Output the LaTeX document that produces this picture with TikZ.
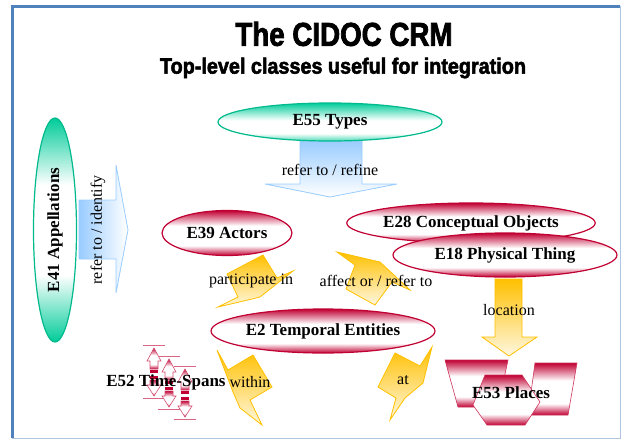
\documentclass[tikz,border=0pt]{standalone}
\usepackage{fontspec}
\usepackage{graphicx}
\setmainfont{Liberation Serif}
\newfontfamily\headfont{Liberation Sans}[BoldFeatures={FakeBold=2.5}]
\usetikzlibrary{shapes.geometric}

\definecolor{crmteal}{RGB}{0,204,153}
\definecolor{crmtealline}{RGB}{0,185,140}
\definecolor{crmred}{RGB}{192,0,50}
\definecolor{crmyellow}{RGB}{255,192,0}
\definecolor{crmblue}{RGB}{153,204,255}
\definecolor{framecol}{RGB}{79,129,189}

% banded shadings (the middle 50bp cover the path)
\pgfdeclareverticalshading{redband}{100bp}{color(0bp)=(crmred); color(25bp)=(crmred);
    color(36bp)=(white); color(58bp)=(white); color(75bp)=(crmred); color(100bp)=(crmred)}
\pgfdeclareverticalshading{tealband}{100bp}{color(0bp)=(crmteal!70); color(25bp)=(crmteal!70);
    color(35bp)=(white); color(52bp)=(white); color(75bp)=(crmteal); color(100bp)=(crmteal)}
\pgfdeclareverticalshading{tealsides}{100bp}{color(0bp)=(crmteal); color(25bp)=(crmteal);
    color(40bp)=(white); color(60bp)=(white); color(75bp)=(crmteal); color(100bp)=(crmteal)}

\tikzset{
    entity/.style={ellipse, draw=crmred, line width=1.2pt, shading=redband, inner sep=0pt,
        font=\fontsize{17}{19}\selectfont\bfseries},
    typeclass/.style={ellipse, draw=crmtealline, line width=1.2pt, shading=tealband, inner sep=0pt,
        font=\fontsize{17}{19}\selectfont\bfseries},
    relation/.style={font=\fontsize{16}{18}\selectfont, inner sep=1pt},
    bolt/.style={draw=crmyellow, line width=0.8pt, top color=crmyellow, bottom color=crmyellow!12},
    bluearrow/.style={draw=crmblue, line width=0.8pt, top color=crmblue, bottom color=white},
    placeshape/.style={draw=crmred!80, line width=0.6pt, shading=redband},
    spanarrow/.style={draw=crmred!70, line width=0.6pt, shading=redband}
}

\begin{document}
\begin{tikzpicture}[x=1pt, y=-1pt]
    \useasboundingbox (0,0) rectangle (625,440);

    % Frame
    \draw[framecol!45, line width=1pt] (12,6) rectangle (620,438);
    \draw[framecol, line width=3pt] (12,438) |- (620,6);

    % Title
    \node (title) at (344,34) {\headfont\bfseries\fontsize{33}{35}\selectfont\scalebox{0.84}[1]{The CIDOC CRM}};
    \node (subtitle) at (343,68) {\headfont\bfseries\fontsize{22}{24}\selectfont\scalebox{0.9}[1]{Top-level classes useful for integration}};

    % Block arrows
    \draw[bluearrow] (300,140) -- (362,140) -- (362,184) -- (397,184) -- (330,197) -- (265,184) -- (300,184) -- cycle;
    \draw[bluearrow, left color=crmblue, right color=white] (79,200) -- (116,200) -- (116,165) -- (128,230) -- (116,293) -- (116,259) -- (79,259) -- cycle;
    \draw[bolt] (495,279) -- (522,279) -- (522,337) -- (537,337) -- (509,356) -- (482,337) -- (495,337) -- cycle;

    % Lightning arrows
    \draw[bolt] (263,255) -- (277,278) -- (293,271) -- (260,297) -- (252,299) -- (218,307) -- (238,297) -- (227,274) -- cycle;
    \draw[bolt] (337,252) -- (380,262) -- (410,290) -- (392,282) -- (375,305) -- (346,289) -- (355,265) -- cycle;
    \draw[bolt] (217,350) -- (228,370) -- (253,355) -- (272,387) -- (250,400) -- (262,425) -- (240,408) -- (233,392) -- cycle;
    \draw[bolt] (395,353) -- (420,366) -- (432,347) -- (423,383) -- (405,398) -- (390,420) -- (396,398) -- (378,387) -- cycle;

    % Classes
    \node[typeclass, minimum width=224pt, minimum height=38pt] (types) at (330,122) {E55 Types};
    \node[typeclass, shading=tealsides, rotate=90, minimum width=224pt, minimum height=43pt] (appellations) at (55,230) {E41 Appellations};
    \node[entity, minimum width=130pt, minimum height=45pt] (actors) at (227,233) {E39 Actors};
    \node[entity, minimum width=224pt, minimum height=40pt] (conceptual) at (471,223) {E28 Conceptual Objects};
    \node[entity, minimum width=224pt, minimum height=44pt] (physical) at (505,255) {E18 Physical Thing};
    \node[entity, minimum width=224pt, minimum height=44pt] (temporal) at (323,331) {E2 Temporal Entities};

    % Places
    \draw[placeshape] (445,360) -- (508,360) -- (498,407) -- (458,407) -- cycle;
    \draw[placeshape] (535,363) -- (577,363) -- (568,415) -- (528,415) -- cycle;
    \draw[placeshape] (485,375) -- (522,375) -- (540,402) -- (525,425) -- (487,425) -- (473,405) -- cycle;
    \node[font=\fontsize{17}{19}\selectfont\bfseries] (places) at (511,393) {E53 Places};

    % Time-spans
    \foreach \cx/\ty in {154/345, 169/356, 185/366} {
        \draw[crmred!60, line width=0.8pt] (\cx-11,\ty) -- (\cx+11,\ty);
        \draw[spanarrow] (\cx,\ty+3) -- (\cx+7,\ty+16) -- (\cx+4,\ty+16) -- (\cx+4,\ty+24)
            -- (\cx-4,\ty+24) -- (\cx-4,\ty+16) -- (\cx-7,\ty+16) -- cycle;
        \fill[crmred] (\cx-4,\ty+25) rectangle (\cx+4,\ty+28);
        \fill[crmred] (\cx-4,\ty+31) rectangle (\cx+4,\ty+34);
        \draw[spanarrow] (\cx-4,\ty+35) -- (\cx+4,\ty+35) -- (\cx+4,\ty+40) -- (\cx+7,\ty+40)
            -- (\cx,\ty+51) -- (\cx-7,\ty+40) -- (\cx-4,\ty+40) -- cycle;
        \draw[crmred!60, line width=0.8pt] (\cx-11,\ty+53) -- (\cx+11,\ty+53);
    }
    \node[font=\fontsize{17}{19}\selectfont\bfseries] (timespans) at (166,382) {E52 Time-Spans};

    % Relation labels
    \node[relation] (refine) at (330,170) {refer to / refine};
    \node[relation, rotate=90] (identify) at (98,230) {refer to / identify};
    \node[relation] (participate) at (251,281) {participate in};
    \node[relation] (affect) at (376,281) {affect or / refer to};
    \node[relation] (location) at (509,310) {location};
    \node[relation] (within) at (250,382) {within};
    \node[relation] (at) at (403,380) {at};
\end{tikzpicture}
\end{document}
